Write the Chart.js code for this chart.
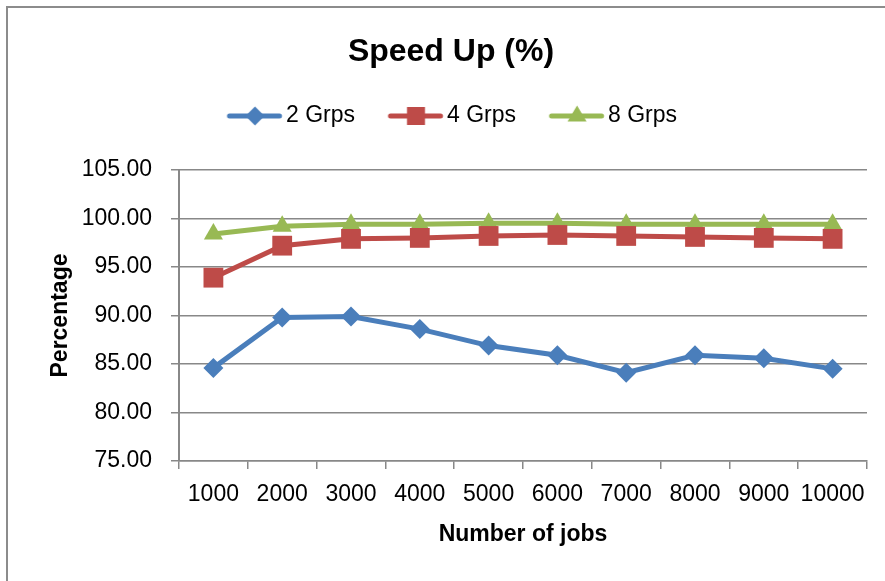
<!DOCTYPE html>
<html><head><meta charset="utf-8">
<script src="https://cdn.jsdelivr.net/npm/chart.js@4.4.1/dist/chart.umd.min.js"></script>
<style>
html,body{margin:0;padding:0;background:#fff;overflow:hidden;}
#wrap{position:relative;width:885px;height:581px;}
#frame{position:absolute;left:6px;top:6px;width:900px;height:600px;border-left:2px solid #8c8c8c;border-top:2px solid #8c8c8c;box-sizing:border-box;}
canvas{position:absolute;left:0;top:0;}
</style></head><body>
<div id="wrap"><div id="frame"></div><canvas id="c" width="885" height="581"></canvas></div>
<script>
const categories = ['1000','2000','3000','4000','5000','6000','7000','8000','9000','10000'];
const seriesNames = ['2 Grps','4 Grps','8 Grps'];
const grps2 = [84.6, 89.8, 89.9, 88.6, 86.9, 85.9, 84.1, 85.9, 85.6, 84.5];
const grps4 = [93.9, 97.2, 97.9, 98.0, 98.2, 98.3, 98.2, 98.1, 98.0, 97.9];
const grps8 = [98.4, 99.2, 99.4, 99.4, 99.5, 99.5, 99.4, 99.4, 99.4, 99.4];
const yTicks = [75, 80, 85, 90, 95, 100, 105];
const colors = ['#4A7EBB', '#BE4B48', '#98B954'];
const shapes = ['rectRot', 'rect', 'triangle'];
const radii = [10, 14, 11];

function legendImg(color, shape){
  const c = document.createElement('canvas'); c.width = 70; c.height = 26;
  const g = c.getContext('2d');
  g.strokeStyle = color; g.lineWidth = 5; g.lineCap = 'round';
  g.beginPath(); g.moveTo(14.75, 13); g.lineTo(64.75, 13); g.stroke();
  g.fillStyle = color;
  const cx = 40.25, cy = 13;
  g.beginPath();
  if (shape === 'rectRot') { const r = 9.5; g.moveTo(cx, cy - r); g.lineTo(cx + r, cy); g.lineTo(cx, cy + r); g.lineTo(cx - r, cy); }
  else if (shape === 'rect') { g.rect(cx - 9, cy - 9, 18, 18); }
  else { g.moveTo(cx, cy - 10.5); g.lineTo(cx + 9.5, cy + 5.5); g.lineTo(cx - 9.5, cy + 5.5); }
  g.closePath(); g.fill();
  return c;
}
const legendImgs = colors.map((c, i) => legendImg(c, shapes[i]));

const seriesData = [grps2, grps4, grps8];
const datasets = seriesNames.map((name, i) => ({
  label: name,
  data: seriesData[i],
  borderColor: colors[i],
  backgroundColor: colors[i],
  borderWidth: 5,
  pointStyle: shapes[i],
  pointRadius: radii[i],
  pointHoverRadius: radii[i],
  pointBorderWidth: 0,
  pointBackgroundColor: colors[i],
  tension: 0
}));

const legendFix = {
  id: 'legendFix',
  beforeLayout(chart) {
    const lg = chart.legend;
    if (lg && !lg._fixed) {
      const f = lg.fit;
      lg.fit = function(){ f.call(this); this.height = 96.5; };
      lg._fixed = true;
    }
  }
};

new Chart(document.getElementById('c'), {
  type: 'line',
  data: { labels: categories, datasets },
  plugins: [legendFix],
  options: {
    responsive: false,
    animation: false,
    layout: { padding: { left: 35, right: 18, top: 0, bottom: 0 } },
    plugins: {
      tooltip: { enabled: false },
      title: {
        display: true,
        text: 'Speed Up (%)',
        color: '#000',
        font: { family: 'Liberation Sans', size: 32, weight: 'bold' },
        padding: { top: 33.3, bottom: 1.8 }
      },
      legend: {
        display: true,
        position: 'top',
        labels: {
          usePointStyle: true,
          pointStyleWidth: 49.5,
          padding: 31,
          color: '#000',
          font: { family: 'Liberation Sans', size: 23 },
          generateLabels(chart) {
            const items = Chart.defaults.plugins.legend.labels.generateLabels(chart);
            items.forEach((it, i) => { it.pointStyle = legendImgs[i]; });
            return items;
          }
        }
      }
    },
    scales: {
      x: {
        offset: true,
        afterFit(scale) { scale.height = 120; },
        grid: { display: true, drawOnChartArea: false, drawTicks: true, tickLength: 8, offset: true, color: '#888', lineWidth: 1.5 },
        border: { display: true, color: '#888', width: 1.5 },
        ticks: { color: '#000', padding: 12.2, maxRotation: 0, minRotation: 0, autoSkip: false,
                 font: { family: 'Liberation Sans', size: 23 } },
        title: { display: true, text: 'Number of jobs', color: '#000',
                 font: { family: 'Liberation Sans', size: 23, weight: 'bold' },
                 padding: { top: 0, bottom: 32.2 } }
      },
      y: {
        min: yTicks[0],
        max: yTicks[yTicks.length - 1],
        afterFit(scale) { scale.width = 144; },
        afterBuildTicks(scale) { scale.ticks = yTicks.map(v => ({ value: v })); },
        grid: { color: '#888', lineWidth: 1.5, drawTicks: true, tickLength: 8 },
        border: { display: true, color: '#888', width: 2 },
        ticks: { color: '#000', padding: 19, font: { family: 'Liberation Sans', size: 23 },
                 callback: v => Number(v).toFixed(2) },
        title: { display: true, text: 'Percentage', color: '#000',
                 font: { family: 'Liberation Sans', size: 23, weight: 'bold' },
                 padding: { top: 12.2, bottom: 0 } }
      }
    }
  }
});
</script>
</body></html>
